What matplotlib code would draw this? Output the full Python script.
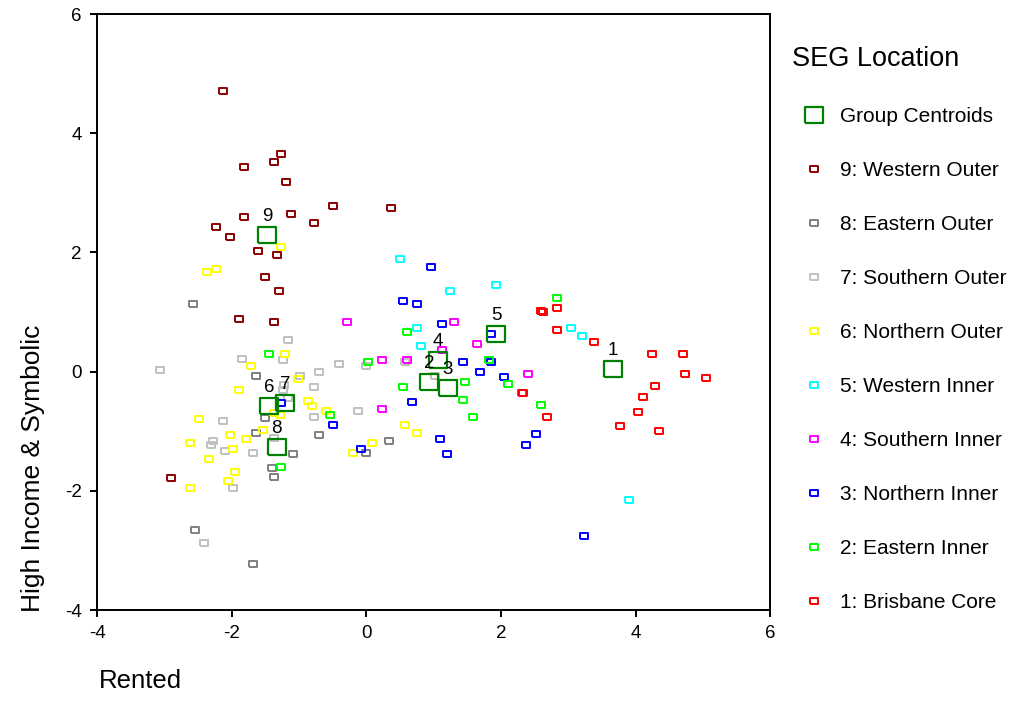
import numpy as np
import matplotlib
matplotlib.use('Agg')
import matplotlib.pyplot as plt
from matplotlib.lines import Line2D

plt.rcParams['font.family'] = ['Liberation Sans', 'DejaVu Sans']
plt.rcParams['axes.unicode_minus'] = False

# discriminant scores per SEG location (Rented, High Income & Symbolic)
g1_x = [2.60, 2.62, 2.83, 2.83, 3.38, 4.25, 4.70, 4.73, 5.05, 4.29, 4.11, 4.04, 3.77, 4.35, 2.69, 2.33]
g1_y = [1.02, 1.00, 1.06, 0.70, 0.50, 0.30, 0.30, -0.04, -0.10, -0.24, -0.43, -0.67, -0.92, -1.00, -0.76, -0.36]
g2_x = [2.83, 0.61, 0.02, 1.82, 1.47, 2.10, 0.54, 1.44, 1.58, 2.59, -1.44, -0.54, -1.26]
g2_y = [1.23, 0.66, 0.16, 0.19, -0.17, -0.20, -0.26, -0.47, -0.76, -0.56, 0.30, -0.73, -1.60]
g3_x = [0.96, 0.54, 0.75, 1.13, 1.85, 1.44, 1.85, 1.69, 2.04, 0.68, 1.10, 1.20, 2.52, 2.38, -0.49, -0.08, -1.27, 3.24]
g3_y = [1.76, 1.19, 1.13, 0.80, 0.63, 0.16, 0.17, 0.00, -0.09, -0.51, -1.13, -1.39, -1.05, -1.23, -0.90, -1.30, -0.53, -2.75]
g4_x = [-0.29, 1.30, 1.13, 1.65, 0.23, 0.61, 2.41, 2.31, 0.23]
g4_y = [0.83, 0.83, 0.36, 0.46, 0.19, 0.19, -0.04, -0.36, -0.63]
g5_x = [0.50, 1.24, 1.93, 0.75, 0.82, 3.04, 3.21, 3.90]
g5_y = [1.89, 1.36, 1.46, 0.73, 0.43, 0.73, 0.60, -2.16]
g6_x = [-1.26, -2.23, -2.37, -1.20, -1.71, -1.89, -1.02, -0.87, -0.81, -0.60, -2.48, -2.02, -1.79,
        -1.53, -2.62, -1.98, -2.34, -1.95, -2.06, -2.62, -1.37, -1.28, 0.58, 0.75, 0.08, -0.19]
g6_y = [2.09, 1.73, 1.67, 0.30, 0.10, -0.31, -0.13, -0.49, -0.57, -0.66, -0.80, -1.06, -1.13,
        -0.98, -1.19, -1.29, -1.46, -1.69, -1.83, -1.96, -0.69, -0.73, -0.90, -1.03, -1.20, -1.36]
g7_x = [-1.16, -1.85, -1.23, -3.06, -0.40, -0.01, -0.70, -0.98, -0.77, -1.23, -1.16, -1.22, -0.12,
        -0.78, -2.13, -2.27, -2.31, -2.10, -1.68, -1.37, -1.98, -2.41, 0.58, 1.02]
g7_y = [0.53, 0.21, 0.20, 0.03, 0.13, 0.09, 0.00, -0.07, -0.26, -0.31, -0.44, -0.22, -0.66,
        -0.76, -0.83, -1.16, -1.23, -1.33, -1.36, -1.12, -1.96, -2.88, 0.17, -0.07]
g8_x = [-2.58, -1.64, -1.50, -1.64, -0.70, -1.09, 0.34, -0.01, -1.40, -1.37, -2.54, -1.68]
g8_y = [1.13, -0.07, -0.78, -1.03, -1.06, -1.39, -1.16, -1.36, -1.62, -1.76, -2.65, -3.22]
g9_x = [-2.13, -1.26, -1.37, -1.82, -1.19, -0.50, 0.37, -1.82, -1.12, -0.78, -2.23, -2.02, -1.61,
        -1.33, -1.50, -1.30, -1.89, -1.37, -2.90]
g9_y = [4.71, 3.65, 3.51, 3.44, 3.18, 2.78, 2.75, 2.59, 2.65, 2.49, 2.42, 2.26, 2.02,
        1.95, 1.59, 1.36, 0.89, 0.83, -1.79]

cent_x = [3.66, 0.93, 1.21, 1.06, 1.93, -1.44, -1.21, -1.33, -1.47]
cent_y = [0.04, -0.17, -0.27, 0.19, 0.63, -0.58, -0.53, -1.27, 2.29]

labels = ['1: Brisbane Core', '2: Eastern Inner', '3: Northern Inner', '4: Southern Inner',
          '5: Western Inner', '6: Northern Outer', '7: Southern Outer', '8: Eastern Outer',
          '9: Western Outer']
colors = ['#ff0000', '#00ff00', '#0000ff', '#ff00ff', '#00ffff', '#ffff00', '#c0c0c0', '#808080', '#8b0000']

groups = [(g1_x, g1_y), (g2_x, g2_y), (g3_x, g3_y), (g4_x, g4_y), (g5_x, g5_y),
          (g6_x, g6_y), (g7_x, g7_y), (g8_x, g8_y), (g9_x, g9_y)]

# wide rectangle marker
rect = [(-1.2, -1), (1.2, -1), (1.2, 1), (-1.2, 1), (-1.2, -1)]

fig = plt.figure(figsize=(10.16, 7.18), dpi=100)
ax = fig.add_axes([0.0955, 0.1504, 0.6625, 0.83])

# 9 first so group 1 ends up on top
for i in range(8, -1, -1):
    gx, gy = groups[i]
    ax.plot(gx, gy, ls='none', marker=rect, ms=6, mfc='none', mec=colors[i], mew=1.4)

ax.plot(cent_x, cent_y, ls='none', marker=rect, ms=13.5, mfc='none', mec='#008000', mew=1.6)
for k in range(len(cent_x)):
    ax.annotate(str(k + 1), (cent_x[k], cent_y[k]), xytext=(0, 10), textcoords='offset points',
                ha='center', va='baseline', fontsize=13.5)

ax.set_xlim(-4, 6)
ax.set_ylim(-4, 6)
ax.set_xticks([-4, -2, 0, 2, 4, 6])
ax.set_yticks([-4, -2, 0, 2, 4, 6])
ax.tick_params(direction='out', length=5, width=1.4, labelsize=13.5, pad=6)
for s in ax.spines.values():
    s.set_linewidth(1.4)

fig.text(0.032, 0.148, 'High Income & Symbolic', rotation=90, ha='center', va='bottom', fontsize=19)
fig.text(0.097, 0.052, 'Rented', ha='left', va='center', fontsize=18.5)

handles = [Line2D([], [], ls='none', marker=rect, ms=13.5, mfc='none', mec='#008000', mew=1.6)]
for i in range(8, -1, -1):
    handles.append(Line2D([], [], ls='none', marker=rect, ms=6, mfc='none', mec=colors[i], mew=1.4))
leg_labels = ['Group Centroids'] + labels[::-1]
leg = fig.legend(handles, leg_labels, loc='upper left', bbox_to_anchor=(0.761, 0.962),
                 frameon=False, fontsize=15, title='SEG Location', title_fontsize=19.5,
                 alignment='left', labelspacing=1.68, handlelength=2.1, handletextpad=0.2)

fig.savefig('out.png', dpi=100)
